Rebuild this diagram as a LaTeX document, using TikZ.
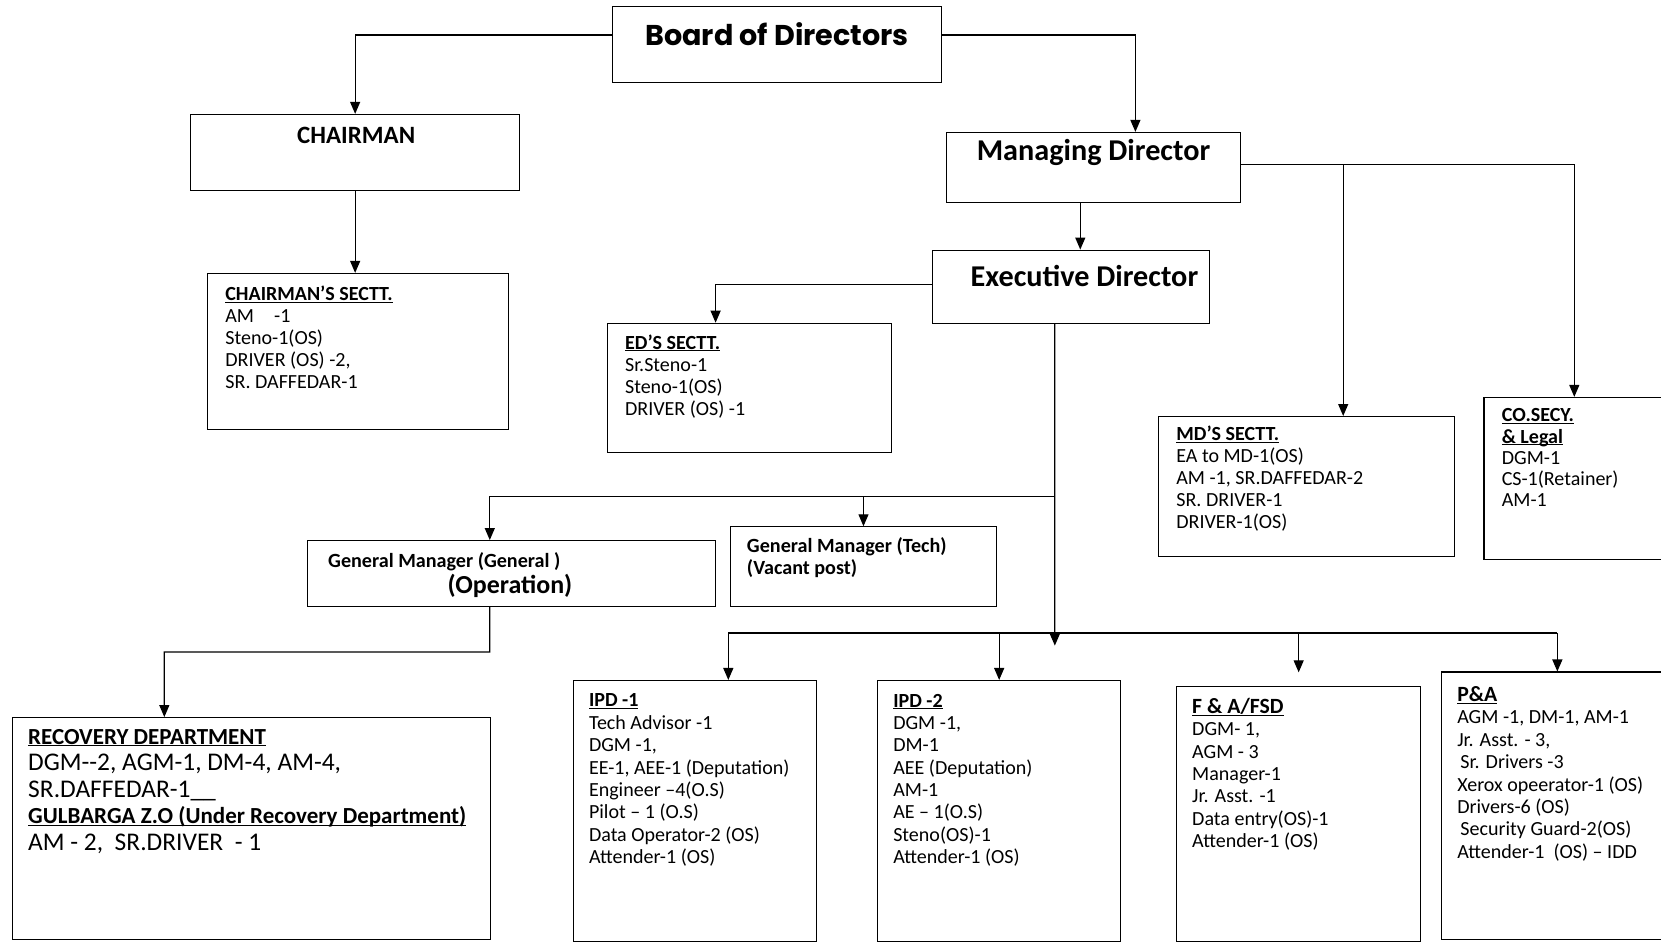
\documentclass[tikz,border=0pt]{standalone}
\usepackage{fontspec}
\setmainfont{Carlito}
\newfontfamily\bodfont{Poppins}
\usetikzlibrary{arrows.meta}

\tikzset{
  box/.style={draw, line width=1.2pt, inner sep=0pt},
  arr/.style={line width=1.2pt, -{Triangle[length=12pt,width=10pt]}},
  lst/.style={inner sep=0pt, anchor=north west, align=left, font=\fontsize{18.9}{20.8}\selectfont},
  ttl/.style={inner sep=0pt, font=\fontsize{28.5}{30}\selectfont\bfseries},
}
\newcommand{\hd}[1]{\textbf{\underline{\raisebox{0pt}[\height][0pt]{#1}}}}

\begin{document}
\begin{tikzpicture}[x=1pt, y=-1pt, scale=1.06, transform shape]
\useasboundingbox (0,0) rectangle (1567,889);

% boxes
\node[box, minimum width=310, minimum height=72] (bod) at (733,42) {};
\node[box, minimum width=310, minimum height=72] (ch) at (335,144) {};
\node[box, minimum width=277, minimum height=66] (md) at (1031.5,158) {};
\node[box, minimum width=261, minimum height=69] (ed) at (1010.5,270.5) {};
\node[box, minimum width=284, minimum height=147] (chs) at (338,331.5) {};
\node[box, minimum width=268, minimum height=122] (eds) at (707,366) {};
\node[box, minimum width=279, minimum height=132] (mds) at (1232.5,459) {};
\node[box, minimum width=170, minimum height=153] (cos) at (1485,451.5) {};
\node[box, minimum width=385, minimum height=62] (gmg) at (482.5,541) {};
\node[box, minimum width=251, minimum height=75] (gmt) at (814.5,534.5) {};
\node[box, minimum width=451, minimum height=209] (rec) at (237.5,781.5) {};
\node[box, minimum width=229, minimum height=246] (ipd1) at (655.5,765) {};
\node[box, minimum width=229, minimum height=246] (ipd2) at (942.5,765) {};
\node[box, minimum width=230, minimum height=240] (fa) at (1225,768) {};
\node[box, minimum width=210, minimum height=252] (pa) at (1465,760) {};

% titles
\node[inner sep=0pt, font=\fontsize{27}{29}\selectfont\bodfont\bfseries] (bodt) at ([shift={(0,27)}]bod.north) {Board of Directors};
\node[ttl, font=\fontsize{23.5}{25}\selectfont\bfseries] (cht) at ([shift={(1,20)}]ch.north) {CHAIRMAN};
\node[ttl] (mdt) at ([shift={(0,19)}]md.north) {Managing Director};
\node[ttl] (edt) at ([shift={(12.5,25)}]ed.north) {Executive Director};

% lists
\node[lst] (chsl) at ([shift={(17,12)}]chs.north west) {\hd{CHAIRMAN'S SECTT.}\\ AM\quad -1\\ Steno-1(OS)\\ DRIVER (OS) -2,\\ SR. DAFFEDAR-1};
\node[lst] (edsl) at ([shift={(17,11)}]eds.north west) {\hd{ED'S SECTT.}\\ Sr.Steno-1\\ Steno-1(OS)\\ DRIVER (OS) -1};
\node[lst] (mdsl) at ([shift={(17,9)}]mds.north west) {\hd{MD'S SECTT.}\\ EA to MD-1(OS)\\ AM -1, SR.DAFFEDAR-2\\ SR. DRIVER-1\\ DRIVER-1(OS)};
\node[lst, font=\fontsize{18.9}{20}\selectfont] (cosl) at ([shift={(17,11)}]cos.north west) {\hd{CO.SECY.}\\ \hd{\& Legal}\\ DGM-1\\ CS-1(Retainer)\\ AM-1};
\node[lst, anchor=west, font=\fontsize{19}{21}\selectfont\bfseries] (gmgl) at ([shift={(20,20)}]gmg.north west) {General Manager (General )};
\node[inner sep=0pt, font=\fontsize{24.5}{26}\selectfont\bfseries] (gmgo) at ([shift={(-1.5,43)}]gmg.north) {(Operation)};
\node[lst, font=\fontsize{19}{21}\selectfont\bfseries] (gmtl) at ([shift={(16,10)}]gmt.north west) {General Manager (Tech)\\ (Vacant post)};
\node[lst, font=\fontsize{24}{25}\selectfont] (recl) at ([shift={(15,11)}]rec.north west) {{\fontsize{21.7}{25}\selectfont\hd{RECOVERY DEPARTMENT}}\\ DGM-{}-2, AGM-1, DM-4, AM-4,\\ SR.DAFFEDAR-1\_\_\\ {\fontsize{21.7}{25}\selectfont\hd{GULBARGA Z.O (Under Recovery Department)}}\\ AM - 2,\ \ SR.DRIVER\ \ - 1};
\node[lst, font=\fontsize{18.9}{21.1}\selectfont] (ipd1l) at ([shift={(15,13)}]ipd1.north west) {\hd{IPD -1}\\ Tech Advisor -1\\ DGM -1,\\ EE-1, AEE-1 (Deputation)\\ Engineer –4(O.S)\\ Pilot – 1 (O.S)\\ Data Operator-2 (OS)\\ Attender-1 (OS)};
\node[lst, font=\fontsize{18.9}{21.1}\selectfont] (ipd2l) at ([shift={(15,13)}]ipd2.north west) {\hd{IPD -2}\\ DGM -1,\\ DM-1\\ AEE (Deputation)\\ AM-1\\ AE – 1(O.S)\\ Steno(OS)-1\\ Attender-1 (OS)};
\node[lst, font=\fontsize{18.9}{21.1}\selectfont] (fal) at ([shift={(15,11)}]fa.north west) {{\fontsize{20.5}{21.1}\selectfont\hd{F \& A/FSD}}\\ DGM- 1,\\ AGM - 3\\ Manager-1\\ Jr. Asst. -1\\ Data entry(OS)-1\\ Attender-1 (OS)};
\node[lst, font=\fontsize{18.9}{21.1}\selectfont] (pal) at ([shift={(15,14)}]pa.north west) {{\fontsize{20.5}{21.1}\selectfont\hd{P\&A}}\\ AGM -1, DM-1, AM-1\\ Jr. Asst. - 3,\\ \hspace*{3pt}Sr. Drivers -3\\ Xerox opeerator-1 (OS)\\ Drivers-6 (OS)\\ \hspace*{3pt}Security Guard-2(OS)\\ Attender-1\ \ (OS) – IDD};

% junctions
\coordinate (mdj) at (1267,155);
\coordinate (edj) at (995,468);
\coordinate (edend) at (995,609);
\coordinate (busl) at (687,597);
\coordinate (busr) at (1469,597);
\coordinate (gmgj) at (462,615);

% connectors
\draw[arr] ([shift={(0,-9)}]bod.west) -| (ch.north);
\draw[arr] ([shift={(0,-9)}]bod.east) -| ([shift={(39.5,0)}]md.north);
\draw[arr] (ch.south) -- (ch.south |- chs.north);
\draw[arr] ([shift={(-12.5,0)}]md.south) -- ([shift={(-12.5,0)}]md.south |- ed.north);
\draw[arr] ([shift={(0,-3)}]md.east) -| (cos.north);
\draw[arr] (mdj) -- (mdj |- mds.north);
\draw[arr] ([shift={(0,-2)}]ed.west) -| ([shift={(-32,0)}]eds.north);
\draw[arr] ([shift={(-15.5,0)}]ed.south) -- (edend);
\draw[arr] (edj) -| ([shift={(-20.5,0)}]gmg.north);
\draw[arr] (edj -| gmt.north) -- (gmt.north);
\draw[line width=1.2pt] (busl) -- (busr);
\draw[arr] (busl) -- (busl |- ipd1.north);
\draw[arr] (busl -| ipd2.north) -- (ipd2.north);
\draw[arr, shorten >=14pt] (busl -| fa.north) -- (fa.north);
\draw[arr] (busr) -- (busr |- pa.north);
\draw[arr] ([shift={(-20.5,0)}]gmg.south) -- (gmgj) -| ([shift={(-82.5,0)}]rec.north);

\end{tikzpicture}
\end{document}
